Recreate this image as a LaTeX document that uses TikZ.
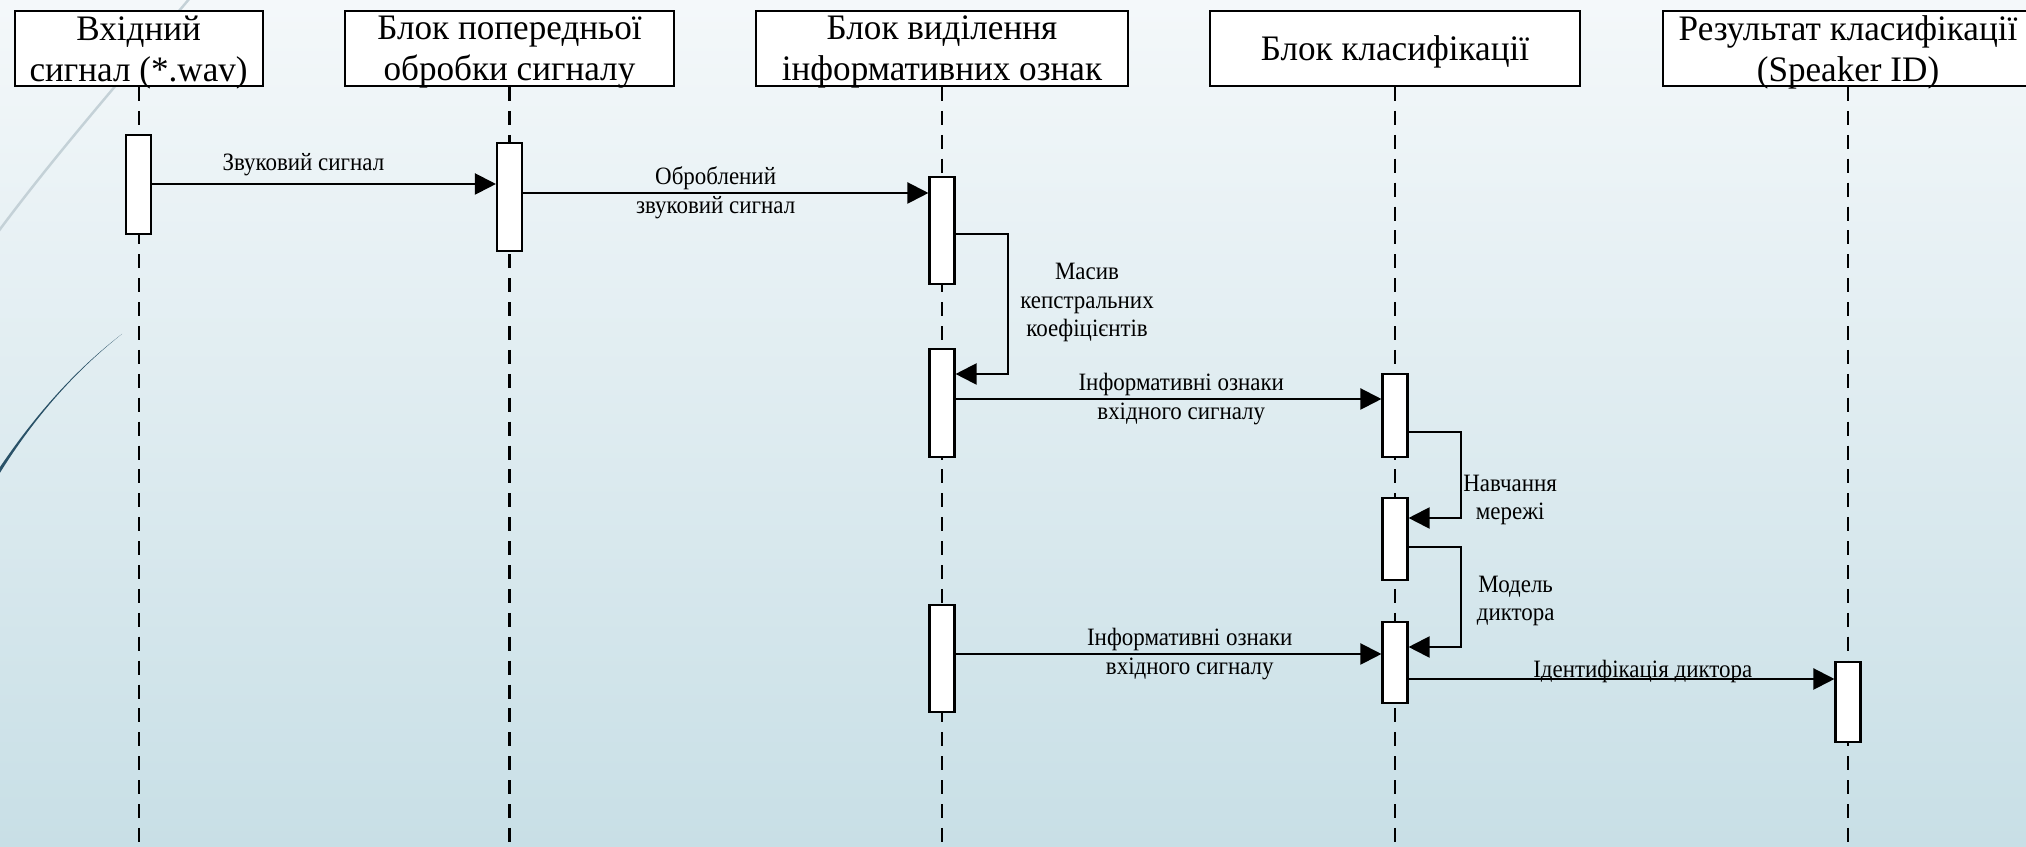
\documentclass[tikz,border=0pt]{standalone}
\usepackage{fontspec}
\setmainfont{Liberation Serif}[FakeStretch=0.92]
\newfontfamily\headfont{Liberation Serif}[FakeStretch=0.98]
\usepackage{tikz}
\usetikzlibrary{arrows.meta,positioning,calc}
\definecolor{bgtop}{RGB}{244,248,250}
\definecolor{bgbottom}{RGB}{200,223,230}
\definecolor{wisplight}{RGB}{196,209,215}
\definecolor{wispdark}{RGB}{42,82,104}

\begin{document}
\begin{tikzpicture}[
  header/.style={draw, rectangle, fill=white, minimum height=0.75cm, align=center,
                 inner xsep=1pt, inner ysep=0pt, text depth=0pt, line width=0.6pt,
                 font=\headfont\fontsize{10.2}{11.6}\selectfont},
  act/.style={draw, rectangle, fill=white, minimum width=0.25cm, inner sep=0pt, line width=0.6pt},
  lifeline/.style={line width=0.6pt, dash pattern=on 4pt off 2.8pt},
  msg/.style={-{Triangle[length=6pt, width=6pt]}, line width=0.6pt},
  lbl/.style={font=\fontsize{7.1}{8.1}\selectfont, align=center}
]

% Background
\useasboundingbox (0,0) rectangle (20.26,-8.47);
\shade[top color=bgtop, bottom color=bgbottom] (0,0) rectangle (20.26,-8.47);
\draw[wisplight, line width=0.7pt] (1.90,0.02) .. controls (1.25,-0.75) and (0.55,-1.55) .. (-0.02,-2.32);
\fill[wispdark] (1.22,-3.34) .. controls (0.75,-3.70) and (0.35,-4.15) .. (-0.02,-4.70)
  -- (-0.02,-4.76) .. controls (0.33,-4.19) and (0.74,-3.72) .. (1.22,-3.34) -- cycle;

% Headers
\node[header, minimum width=2.48cm] (h1) at (1.386,-0.485) {Вхідний\\сигнал (*.wav)};
\node[header, minimum width=3.29cm] (h2) at (5.095,-0.485) {Блок попередньої\\обробки сигналу};
\node[header, minimum width=3.72cm] (h3) at (9.42,-0.485) {Блок виділення\\інформативних ознак};
\node[header, minimum width=3.70cm] (h4) at (13.95,-0.485) {Блок класифікації};
\node[header, minimum width=3.70cm] (h5) at (18.48,-0.485) {Результат класифікації\\(Speaker ID)};

% Lifelines
\coordinate (bottom) at (0,-8.5);
\foreach \h in {h1,h2,h3,h4,h5}
  \draw[lifeline] (\h.south) -- (\h.south |- bottom);

% Activations
\node[act, minimum height=0.99cm] (a1) at (1.386,-1.845) {};
\node[act, minimum height=1.08cm] (a2) at (5.095,-1.97) {};
\node[act, minimum height=1.07cm] (a3) at (9.42,-2.305) {};
\node[act, minimum height=1.08cm] (a4) at (9.42,-4.03) {};
\node[act, minimum height=0.83cm] (a5) at (13.95,-4.155) {};
\node[act, minimum height=0.82cm] (a6) at (13.95,-5.39) {};
\node[act, minimum height=0.81cm] (a7) at (13.95,-6.625) {};
\node[act, minimum height=1.07cm] (a8) at (9.42,-6.585) {};
\node[act, minimum height=0.80cm] (a9) at (18.48,-7.02) {};

% Message levels
\coordinate (m1) at (0,-1.84);
\coordinate (m2) at (0,-1.93);
\coordinate (s1a) at (0,-2.34);
\coordinate (s1b) at (0,-3.74);
\coordinate (m3) at (0,-3.99);
\coordinate (s2a) at (0,-4.32);
\coordinate (s2b) at (0,-5.18);
\coordinate (s3a) at (0,-5.47);
\coordinate (s3b) at (0,-6.47);
\coordinate (m4) at (0,-6.54);
\coordinate (m5) at (0,-6.79);

% Messages
\draw[msg] (a1.east |- m1) -- node[lbl, above, yshift=-1.4pt, pos=0.44] {Звуковий сигнал} (a2.west |- m1);
\draw[msg] (a2.east |- m2) -- node[lbl, pos=0.475] {Оброблений\\звуковий сигнал} (a3.west |- m2);
\draw[msg] (a3.east |- s1a) -- ++(0.52,0)
  |- node[lbl, right, pos=0.245] {Масив\\кепстральних\\коефіцієнтів} (a4.east |- s1b);
\draw[msg] (a4.east |- m3) -- node[lbl, pos=0.53] {Інформативні ознаки\\вхідного сигналу} (a5.west |- m3);
\draw[msg] (a5.east |- s2a) -- ++(0.52,0)
  |- node[lbl, right, inner xsep=0.5pt, pos=0.395] {Навчання\\мережі} (a6.east |- s2b);
\draw[msg] (a6.east |- s3a) -- ++(0.52,0)
  |- node[lbl, right, xshift=1pt, pos=0.27] {Модель\\диктора} (a7.east |- s3b);
\draw[msg] (a8.east |- m4) -- node[lbl, pos=0.55] {Інформативні ознаки\\вхідного сигналу} (a7.west |- m4);
\draw[msg] (a7.east |- m5) -- node[lbl, above, inner sep=0pt, yshift=-1.5pt, pos=0.55] {Ідентифікація диктора} (a9.west |- m5);

\end{tikzpicture}
\end{document}
